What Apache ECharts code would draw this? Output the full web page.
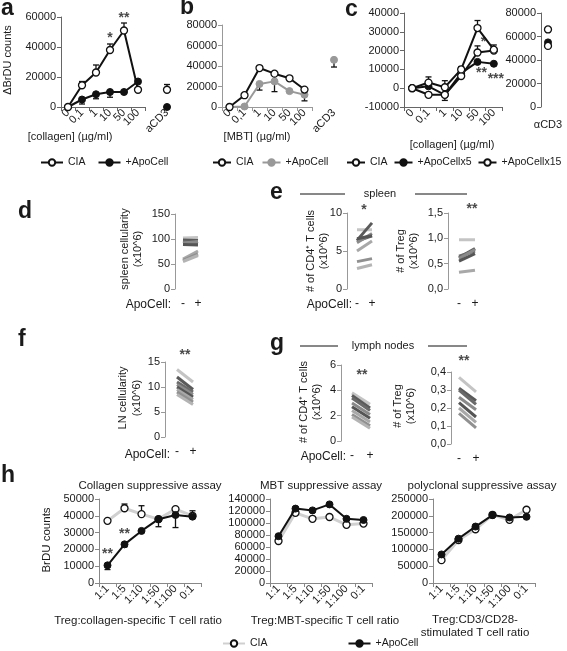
<!DOCTYPE html>
<html><head><meta charset="utf-8">
<script src="https://cdn.jsdelivr.net/npm/echarts@6/dist/echarts.min.js"></script>
<style>html,body{margin:0;padding:0;background:#fff}#c{width:567px;height:651px}</style>
</head><body><div id="c"></div>
<script>
// ================= DATA =================
// panel a
const concCats = ['0','0,1','1','10','50','100'];
const aCIA = [0,14500,23000,38000,51000,11500];
const aCIAErrUp = [0,2500,5000,4000,5000,1000];
const aApo = [0,5000,8500,10000,10000,17000];
const aApoErrDown = [0,3000,3000,3500,0,0];
const aCD3Cats = ['aCD3'];
const aCIA_CD3 = [11500];
const aCIA_CD3ErrUp = [3500];
const aApo_CD3 = [0];
// panel b
const bCIA = [0,11500,38000,32500,28000,17000];
const bApo = [0,500,22500,25000,15500,12000];
const bApoErrDown = [0,0,6000,10000,0,6000];
const bApo_CD3 = [46000];
const bApo_CD3ErrDown = [7000];
// panel c
const cCIA = [0,3000,500,10000,32000,20500];
const cCIAErrUp = [0,3000,3500,1500,4000,2500];
const cX5 = [0,1000,-3500,8000,14000,13000];
const cX5ErrDown = [0,0,3000,0,0,0];
const cX15 = [0,-3500,-3500,6500,19000,20000];
const cX15ErrUp = [0,0,0,0,3500,0];
const cCD3Cats = ['αCD3'];
const cCIA_CD3 = [66000];
const cX5_CD3 = [55000];
const cX15_CD3 = [52000];
// paired panels (ApoCell - / +)
const apoCats = ['-','+'];
const dPre  = [102,98,95,92,89,60,57,55];
const dPost = [103,97,91,95,88,76,70,67];
const eCD4Pre  = [7.8,6.4,6.3,6.1,6.6,5.0,3.6,2.7];
const eCD4Post = [7.8,8.7,7.0,7.3,7.0,6.3,4.0,3.2];
const eTregPre  = [0.97,0.62,0.65,0.60,0.55,0.33];
const eTregPost = [0.97,0.80,0.75,0.78,0.70,0.37];
const fPre  = [13.5,12.0,11.0,10.5,10.0,9.5,9.0,8.5];
const fPost = [11.0,9.5,9.0,8.5,8.0,7.5,7.0,6.5];
const gCD4Pre  = [3.8,3.6,3.4,3.0,2.7,2.4,2.1,1.9];
const gCD4Post = [2.9,2.6,2.4,2.1,1.8,1.5,1.2,1.0];
const gTregPre  = [0.37,0.31,0.30,0.26,0.23,0.20,0.17];
const gTregPost = [0.29,0.24,0.22,0.19,0.15,0.12,0.09];
// panel h
const hCats = ['1:1','1:5','1:10','1:50','1:100','0:1'];
const hColCIA = [37000,44500,41000,38000,44000,40000];
const hColCIAErrUp = [0,2500,5000,0,0,0];
const hColApo = [10500,23000,31000,38000,40500,39500];
const hColApoErrDown = [2500,1500,0,4500,7500,0];
const hColApoErrUp = [0,0,0,0,0,3500];
const hMbtCIA = [70000,117000,107000,110000,97000,99000];
const hMbtApo = [78000,124000,121000,131000,107000,105000];
const hPolCIA = [68000,128000,160000,203000,188000,218000];
const hPolApo = [85000,132000,168000,202000,195000,197000];
// significance annotations (data coords)
const aStars = [{x:'10',y:46000,t:'*'},{x:'50',y:59000,t:'**'}];
const cStars = [{x:'50',y:24500,t:'*',dx:6},{x:'50',y:8000,t:'**',dx:4},{x:'100',y:5000,t:'***',dx:2}];
const eCD4Stars = [{x:'-',y:10.4,t:'*',dx:7}];
const eTregStars = [{x:'-',y:1.58,t:'**',dx:13}];
const fStars = [{x:'-',y:16.3,t:'**',dx:8}];
const gCD4Stars = [{x:'-',y:5.2,t:'**',dx:10}];
const gTregStars = [{x:'-',y:0.46,t:'**',dx:5}];
const hColStars = [{x:'1:1',y:17000,t:'**'},{x:'1:5',y:29000,t:'**'}];

// ================= STYLE / LAYOUT =================
const FF = 'Liberation Sans';
const FONT = '"Liberation Sans", Arial, sans-serif';
const TXT = '#1a1a1a';
const pairColors = ['#c4c4c4','#5a5a5a','#6a6a6a','#8a8a8a','#555555','#a8a8a8','#909090','#b4b4b4'];

const grids=[], xAxes=[], yAxes=[], series=[];
function G(left, top, width, height){ grids.push({left,top,width,height,containLabel:false}); return grids.length-1; }
const lab = {fontFamily:FF, fontSize:11, color:TXT};
const plain = v => String(v);
function Y(gi, min, max, interval, o={}){
  const col = o.color||'#666';
  yAxes.push({type:'value', gridIndex:gi, min, max, interval, offset:o.offset||0,
    show: o.show!==false,
    splitLine:{show:false},
    axisLine:{show:true, lineStyle:{color:col, width:1}},
    axisTick:{show:true, length:4, lineStyle:{color:col}},
    axisLabel:Object.assign({margin:5}, lab, {formatter:o.fmt||plain})});
}
function X(gi, cats, o={}){
  const col = o.color||'#666';
  xAxes.push({type:'category', gridIndex:gi, data:cats, boundaryGap:o.bg!==false,
    axisLine:{show:o.line!==false, onZero:false, lineStyle:{color:col}},
    axisTick:{show:o.tick!==false, length:4, lineStyle:{color:col}},
    axisLabel:Object.assign({}, lab, {rotate:o.rot||0, margin:o.margin==null?4:o.margin, interval:0, fontSize:o.fs||11})});
}
const ST = {
  open:  {symbol:'circle', symbolSize:7, itemStyle:{color:'#fff', borderColor:'#111', borderWidth:1.3}, lineStyle:{color:'#111', width:2}},
  fill:  {symbol:'circle', symbolSize:7, itemStyle:{color:'#111', borderColor:'#111', borderWidth:1}, lineStyle:{color:'#111', width:2}},
  gray:  {symbol:'circle', symbolSize:7, itemStyle:{color:'#999', borderColor:'#999', borderWidth:1}, lineStyle:{color:'#999', width:2}},
  hOpen: {symbol:'circle', symbolSize:7, itemStyle:{color:'#fff', borderColor:'#111', borderWidth:1.3}, lineStyle:{color:'#d0d0d0', width:3}},
  hFill: {symbol:'circle', symbolSize:7, itemStyle:{color:'#111', borderColor:'#111', borderWidth:1}, lineStyle:{color:'#111', width:2}}
};
function L(name, gi, data, st, z){
  series.push(Object.assign({type:'line', name, xAxisIndex:gi, yAxisIndex:gi, data, z:z||3, animation:false, silent:true}, JSON.parse(JSON.stringify(st))));
}
function E(gi, vals, errs, dir, color){
  const data=[];
  vals.forEach((v,i)=>{ if(v!=null && errs[i]) data.push([i, v, v+dir*errs[i]]); });
  if(!data.length) return;
  series.push({type:'custom', xAxisIndex:gi, yAxisIndex:gi, z:2, silent:true, animation:false, data,
    encode:{x:0, y:[1,2]},
    renderItem:(p, api)=>{
      const a = api.coord([api.value(0), api.value(1)]);
      const b = api.coord([api.value(0), api.value(2)]);
      return {type:'group', children:[
        {type:'line', shape:{x1:a[0],y1:a[1],x2:b[0],y2:b[1]}, style:{stroke:color||'#111', lineWidth:1.3}},
        {type:'line', shape:{x1:b[0]-3,y1:b[1],x2:b[0]+3,y2:b[1]}, style:{stroke:color||'#111', lineWidth:1.3}}]};
    }});
}
function S(gi, items){
  series.push({type:'scatter', xAxisIndex:gi, yAxisIndex:gi, symbolSize:1, clip:false, silent:true, animation:false, z:6,
    itemStyle:{color:'rgba(0,0,0,0)'},
    data: items.map(s=>({value:[s.x,s.y], label:{show:true, formatter:s.t, position:'inside', offset:[s.dx||0,0],
      fontFamily:FF, fontSize:14, fontWeight:'bold', color:TXT}}))});
}
function P(gi, pre, post){
  pre.forEach((v,i)=>series.push({type:'line', xAxisIndex:gi, yAxisIndex:gi, data:[v, post[i]], symbol:'none', silent:true, animation:false, z:3,
    lineStyle:{color:pairColors[i%pairColors.length], width:3}}));
}
const comma = v => v.toFixed(1).replace('.', ',');

// ---- a ----
let g = G(61, 17, 84, 90); X(g, concCats, {rot:45}); Y(g, 0, 60000, 20000);
E(g, aCIA, aCIAErrUp, 1); E(g, aApo, aApoErrDown, -1);
L('CIA', g, aCIA, ST.open, 4); L('+ApoCell', g, aApo, ST.fill, 3); S(g, aStars);
g = G(160, 17, 14, 90); X(g, aCD3Cats, {rot:45, line:false, tick:false}); Y(g, 0, 60000, 20000, {show:false});
E(g, aCIA_CD3, aCIA_CD3ErrUp, 1);
L('CIA', g, aCIA_CD3, ST.open, 4); L('+ApoCell', g, aApo_CD3, ST.fill, 3);
// ---- b ----
g = G(222, 25, 90, 82); X(g, concCats, {rot:45, color:'#999'}); Y(g, 0, 80000, 20000, {color:'#999'});
E(g, bApo, bApoErrDown, -1);
L('CIA ', g, bCIA, ST.open, 4); L('+ApoCell ', g, bApo, ST.gray, 3);
g = G(327, 25, 14, 82); X(g, aCD3Cats, {rot:45, line:false, tick:false}); Y(g, 0, 80000, 20000, {show:false});
E(g, bApo_CD3, bApo_CD3ErrDown, -1);
L('+ApoCell ', g, bApo_CD3, ST.gray, 3);
// ---- c ----
g = G(404, 13, 98, 94); X(g, concCats, {rot:45}); Y(g, -10000, 40000, 10000);
E(g, cCIA, cCIAErrUp, 1); E(g, cX5, cX5ErrDown, -1); E(g, cX15, cX15ErrUp, 1);
L('CIA  ', g, cCIA, ST.open, 5); L('+ApoCellx5', g, cX5, ST.fill, 3); L('+ApoCellx15', g, cX15, ST.open, 4); S(g, cStars);
g = G(541, 13, 14, 94); X(g, cCD3Cats, {line:false, tick:false, margin:12}); Y(g, 0, 80000, 20000);
L('CIA  ', g, cCIA_CD3, ST.open, 5); L('+ApoCellx5', g, cX5_CD3, ST.fill, 3); L('+ApoCellx15', g, cX15_CD3, ST.open, 4);
// ---- d ----
const pairX = {bg:false, line:false, tick:false, margin:9, fs:12};
g = G(183, 214, 15, 75); X(g, apoCats, pairX); Y(g, 0, 150, 50, {offset:8, color:'#999'}); P(g, dPre, dPost);
// ---- e ----
g = G(357, 213, 15, 76); X(g, apoCats, pairX); Y(g, 0, 10, 5, {offset:10, color:'#999'}); P(g, eCD4Pre, eCD4Post); S(g, eCD4Stars);
g = G(459, 213, 16, 76); X(g, apoCats, pairX); Y(g, 0, 1.5, 0.5, {offset:11, color:'#999', fmt:comma}); P(g, eTregPre, eTregPost); S(g, eTregStars);
// ---- f ----
g = G(177, 362, 16, 75); X(g, apoCats, pairX); Y(g, 0, 15, 5, {offset:12, color:'#999'}); P(g, fPre, fPost); S(g, fStars);
// ---- g ----
g = G(352, 365, 18, 76); X(g, apoCats, pairX); Y(g, 0, 6, 2, {offset:11, color:'#999'}); P(g, gCD4Pre, gCD4Post); S(g, gCD4Stars);
g = G(459, 372, 17, 72); X(g, apoCats, pairX); Y(g, 0, 0.4, 0.1, {offset:8, color:'#999', fmt:comma}); P(g, gTregPre, gTregPost); S(g, gTregStars);
// ---- h ----
g = G(99, 499, 102, 84); X(g, hCats, {rot:45, color:'#888'}); Y(g, 0, 50000, 10000, {color:'#888'});
E(g, hColCIA, hColCIAErrUp, 1); E(g, hColApo, hColApoErrDown, -1); E(g, hColApo, hColApoErrUp, 1);
L('CIA   ', g, hColCIA, ST.hOpen, 3); L('+ApoCell   ', g, hColApo, ST.hFill, 4); S(g, hColStars);
g = G(270, 499, 102, 84); X(g, hCats, {rot:45, color:'#888'}); Y(g, 0, 140000, 20000, {color:'#888'});
L('CIA   ', g, hMbtCIA, ST.hOpen, 3); L('+ApoCell   ', g, hMbtApo, ST.hFill, 4);
g = G(433, 499, 102, 84); X(g, hCats, {rot:45, color:'#888'}); Y(g, 0, 250000, 50000, {color:'#888'});
L('CIA   ', g, hPolCIA, ST.hOpen, 3); L('+ApoCell   ', g, hPolApo, ST.hFill, 4);

// ================= TEXT (graphic) =================
function T(text, x, y, o={}){
  return {type:'text', x, y, rotation:o.rot||0, silent:true, z:10,
    style:{text, x:0, y:0, fill:o.color||TXT, font:(o.bold?'bold ':'')+(o.size||11)+'px '+FONT,
      textAlign:o.align||'center', align:o.align||'center', textVerticalAlign:'middle', verticalAlign:'middle'}};
}
function HL(x1,x2,y){ return {type:'line', silent:true, shape:{x1,y1:y,x2,y2:y}, style:{stroke:'#111', lineWidth:1}}; }
const R = Math.PI/2;
const graphic = [
  T('a', 1, 9, {bold:true, size:23, align:'left'}),
  T('b', 180, 8, {bold:true, size:23, align:'left'}),
  T('c', 345, 10, {bold:true, size:23, align:'left'}),
  T('d', 18, 212, {bold:true, size:23, align:'left'}),
  T('e', 270, 193, {bold:true, size:23, align:'left'}),
  T('f', 18, 340, {bold:true, size:23, align:'left'}),
  T('g', 270, 344, {bold:true, size:23, align:'left'}),
  T('h', 1, 476, {bold:true, size:23, align:'left'}),
  T('ΔBrDU counts', 8, 60, {rot:R}),
  T('[collagen] (µg/ml)', 70, 137),
  T('[MBT] (µg/ml)', 257, 137),
  T('[collagen] (µg/ml)', 452, 145),
  T('spleen cellularity', 125, 249, {rot:R}), T('(x10^6)', 138, 249, {rot:R}),
  T('ApoCell:', 171, 305, {align:'right', size:12}),
  T('spleen', 380, 194, {size:11}), HL(300,345,194), HL(415,467,194),
  T('# of CD4⁺ T cells', 311, 251, {rot:R}), T('(x10^6)', 324, 251, {rot:R}),
  T('ApoCell:', 352, 305, {align:'right', size:12}),
  T('# of Treg', 401, 251, {rot:R}), T('(x10^6)', 414, 251, {rot:R}),
  T('LN cellularity', 123, 398, {rot:R}), T('(x10^6)', 137, 398, {rot:R}),
  T('ApoCell:', 170, 455, {align:'right', size:12}),
  T('lymph nodes', 383, 346, {size:11}), HL(300,338,346), HL(428,467,346),
  T('# of CD4⁺ T cells', 304, 402, {rot:R}), T('(x10^6)', 317, 402, {rot:R}),
  T('ApoCell:', 346, 457, {align:'right', size:12}),
  T('# of Treg', 398, 406, {rot:R}), T('(x10^6)', 411, 406, {rot:R}),
  T('Collagen suppressive assay', 150, 486, {size:11.5}),
  T('MBT suppressive assay', 321, 486, {size:11.5}),
  T('polyclonal suppressive assay', 482, 486, {size:11.5}),
  T('BrDU counts', 47, 540, {rot:R, size:11.5}),
  T('Treg:collagen-specific T cell ratio', 138, 621, {size:11.5}),
  T('Treg:MBT-specific T cell ratio', 325, 621, {size:11.5}),
  T('Treg:CD3/CD28-', 475, 620, {size:11.5}),
  T('stimulated T cell ratio', 475, 633, {size:11.5})
];

const legBase = {orient:'horizontal', itemWidth:22, itemHeight:8, selectedMode:false, padding:0,
  textStyle:{fontFamily:FF, fontSize:10.5, color:TXT}, formatter:n=>n.trim()};
const legend = [
  Object.assign({}, legBase, {data:['CIA','+ApoCell'], left:40, top:157, itemGap:12, width:160}),
  Object.assign({}, legBase, {data:['CIA ','+ApoCell '], left:212, top:157, itemGap:8, itemWidth:18, width:130}),
  Object.assign({}, legBase, {data:['CIA  ','+ApoCellx5','+ApoCellx15'], left:346, top:157, itemGap:6, itemWidth:18, width:221}),
  Object.assign({}, legBase, {data:['CIA   ','+ApoCell   '], left:222, top:638, itemGap:80, width:250})
];

const chart = echarts.init(document.getElementById('c'), null, {renderer:'canvas', width:567, height:651});
chart.setOption({backgroundColor:'#fff', animation:false, grid:grids, xAxis:xAxes, yAxis:yAxes, series, legend, graphic});
</script></body></html>
